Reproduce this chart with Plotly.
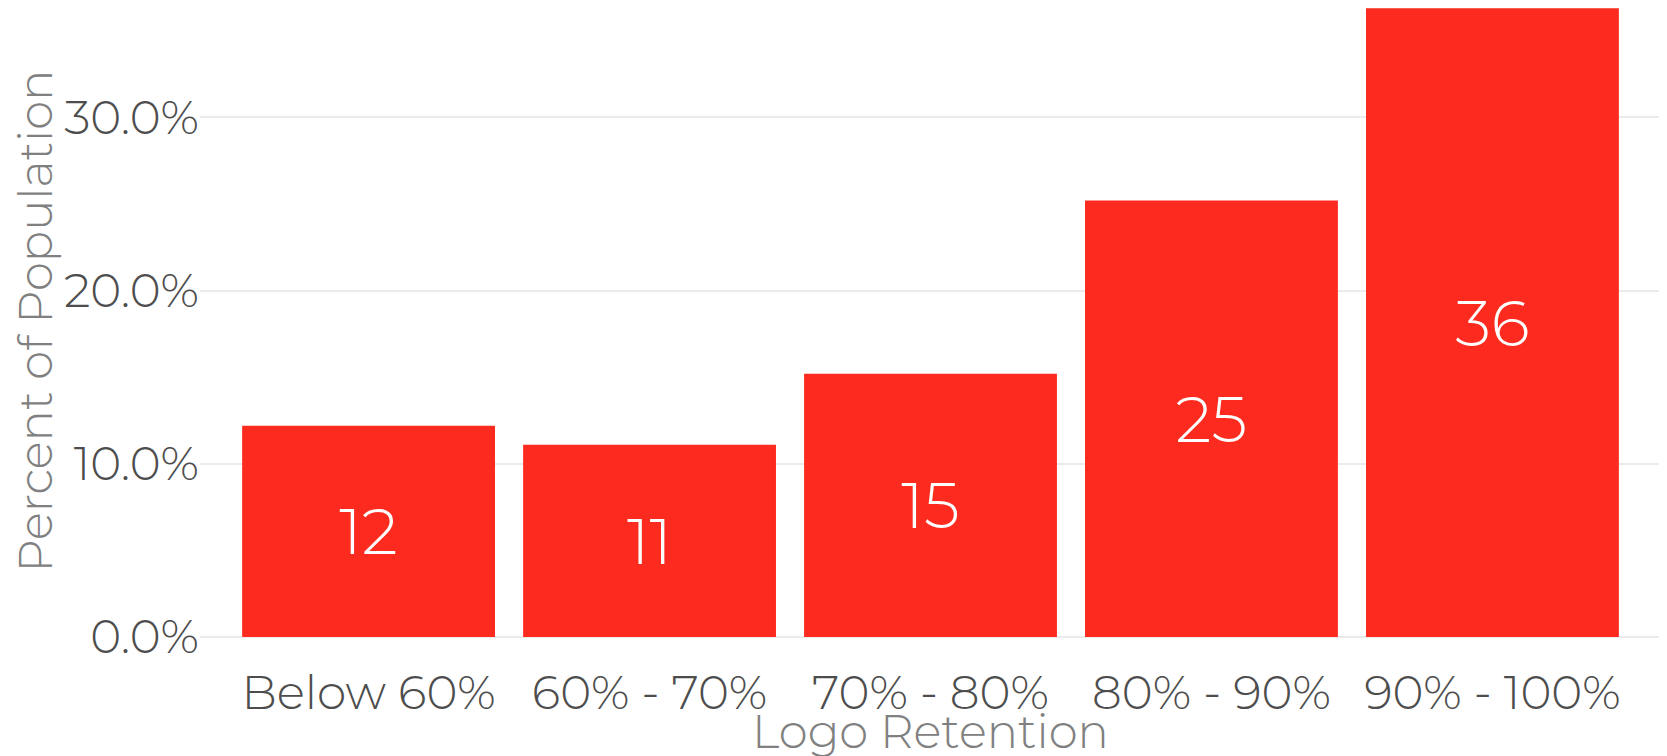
import plotly.graph_objects as go

categories = ["Below 60%", "60% - 70%", "70% - 80%", "80% - 90%", "90% - 100%"]
percent_values = [12.2, 11.1, 15.2, 25.2, 36.3]
y_tick_values = [0, 10, 20, 30]
y_tick_labels = [f"{v:.1f}%" for v in y_tick_values]

FONT = "Montserrat, 'DejaVu Sans', sans-serif"
BAR_COLOR = "#FD2A1F"

fig = go.Figure(
    go.Bar(
        x=categories,
        y=percent_values,
        width=0.9,
        marker=dict(color=BAR_COLOR, line=dict(width=0)),
        texttemplate="%{y:.0f}",
        textposition="inside",
        insidetextanchor="middle",
        textangle=0,
        textfont=dict(family=FONT, size=64, color="white", weight=300),
        hoverinfo="x+y",
    )
)

fig.update_layout(
    width=1659,
    height=748,
    margin=dict(l=192, r=6, t=0, b=95),
    paper_bgcolor="white",
    plot_bgcolor="white",
    showlegend=False,
    font=dict(family=FONT),
    xaxis=dict(
        range=[-0.6, 4.6],
        showgrid=False,
        zeroline=False,
        showline=False,
        ticks="",
        tickfont=dict(family=FONT, size=47, color="#4D4D4D", weight=300),
    ),
    yaxis=dict(
        range=[-1.385, 36.32],
        tickvals=y_tick_values,
        ticktext=y_tick_labels,
        showgrid=True,
        gridcolor="#EBEBEB",
        gridwidth=2,
        zeroline=False,
        showline=False,
        ticks="",
        tickfont=dict(family=FONT, size=47, color="#4D4D4D", weight=300),
    ),
    annotations=[
        dict(
            text="Percent of Population",
            xref="paper", yref="paper",
            x=-0.1125, y=0.5207,
            xanchor="center", yanchor="middle",
            textangle=-90,
            showarrow=False,
            font=dict(family=FONT, size=46.5, color="#808080", weight=300),
        ),
        dict(
            text="Logo Retention",
            xref="paper", yref="paper",
            x=0.5, y=-0.1087,
            xanchor="center", yanchor="middle",
            showarrow=False,
            font=dict(family=FONT, size=46.5, color="#808080", weight=300),
        ),
    ],
)

fig.write_html("out.html")
